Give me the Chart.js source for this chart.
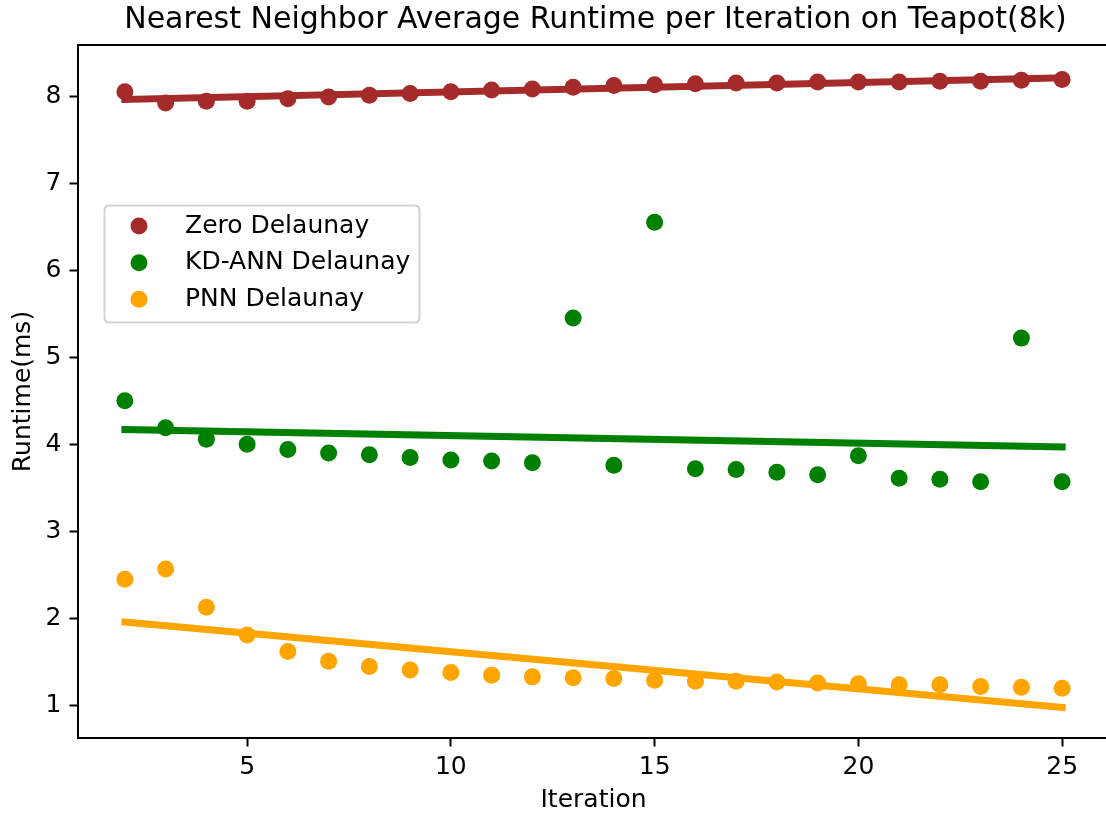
<!DOCTYPE html>
<html>
<head>
<meta charset="utf-8">
<script src="https://cdn.jsdelivr.net/npm/chart.js@4/dist/chart.umd.min.js"></script>
<style>
html,body{margin:0;padding:0;background:#fff;overflow:hidden;}
canvas{display:block;}
</style>
</head>
<body>
<canvas id="c" width="1109" height="816"></canvas>
<script>
const iterations = [2,3,4,5,6,7,8,9,10,11,12,13,14,15,16,17,18,19,20,21,22,23,24,25];
const zeroDelaunay = [8.05,7.92,7.94,7.94,7.97,7.99,8.01,8.03,8.05,8.07,8.08,8.10,8.12,8.13,8.14,8.15,8.15,8.16,8.16,8.16,8.17,8.17,8.18,8.19];
const kdAnnDelaunay = [4.50,4.19,4.06,4.00,3.94,3.90,3.88,3.85,3.82,3.81,3.79,5.45,3.76,6.55,3.72,3.71,3.68,3.65,3.87,3.61,3.60,3.57,5.22,3.57];
const pnnDelaunay = [2.45,2.57,2.13,1.81,1.62,1.51,1.45,1.41,1.38,1.35,1.33,1.32,1.31,1.29,1.28,1.28,1.27,1.26,1.25,1.24,1.24,1.22,1.21,1.20];
const fitX = [2,25];
const zeroFit = [7.96,8.21];
const kdFit = [4.17,3.97];
const pnnFit = [1.96,0.98];
const xTicks = [5,10,15,20,25];
const yTicks = [1,2,3,4,5,6,7,8];
const seriesNames = ["Zero Delaunay","KD-ANN Delaunay","PNN Delaunay"];
const colors = ["#a52a2a","#008000","#ffa500"];
const titleText = "Nearest Neighbor Average Runtime per Iteration on Teapot(8k)";

const FONT = "'DejaVu Sans', sans-serif";
const FS = 25;
const pts = (ys) => iterations.map((x,i)=>({x:x,y:ys[i]}));
const fit = (ys) => fitX.map((x,i)=>({x:x,y:ys[i]}));

function scatterDs(label, data, color){
  return {type:'scatter', label, data, showLine:false, pointRadius:8.5, pointHoverRadius:8.5,
    pointBackgroundColor:color, pointBorderWidth:0, borderColor:color, backgroundColor:color, order:1};
}
function lineDs(data, color){
  return {type:'line', label:'', data, showLine:true, pointRadius:0, borderColor:color, borderWidth:7,
    borderCapStyle:'square', fill:false, tension:0, order:2};
}

const deco = {
  id:'deco',
  afterDraw(chart){
    const ctx = chart.ctx, a = chart.chartArea;
    ctx.save();
    ctx.strokeStyle = '#000'; ctx.lineWidth = 2;
    ctx.beginPath();
    ctx.moveTo(a.left, a.top); ctx.lineTo(a.right, a.top); ctx.lineTo(a.right, a.bottom);
    ctx.stroke();
    ctx.fillStyle = '#000';
    ctx.textAlign = 'center'; ctx.textBaseline = 'middle';
    const cx = (a.left + a.right)/2;
    ctx.font = "30px " + FONT;
    ctx.fillText(titleText, cx + 2, 20.5);
    ctx.font = FS + "px " + FONT;
    ctx.fillText("Iteration", cx, 800);
    ctx.save();
    ctx.translate(23, (a.top + a.bottom)/2);
    ctx.rotate(-Math.PI/2);
    ctx.fillText("Runtime(ms)", 0, 0);
    ctx.restore();
    // legend
    const lx = 104.5, ly = 205.5, lw = 315, lh = 117, r = 5;
    ctx.beginPath();
    ctx.moveTo(lx+r, ly); ctx.lineTo(lx+lw-r, ly); ctx.quadraticCurveTo(lx+lw, ly, lx+lw, ly+r);
    ctx.lineTo(lx+lw, ly+lh-r); ctx.quadraticCurveTo(lx+lw, ly+lh, lx+lw-r, ly+lh);
    ctx.lineTo(lx+r, ly+lh); ctx.quadraticCurveTo(lx, ly+lh, lx, ly+lh-r);
    ctx.lineTo(lx, ly+r); ctx.quadraticCurveTo(lx, ly, lx+r, ly);
    ctx.closePath();
    ctx.fillStyle = 'rgba(255,255,255,0.8)'; ctx.fill();
    ctx.strokeStyle = '#d3d3d3'; ctx.lineWidth = 2; ctx.stroke();
    const rows = [226, 262.7, 299.3];
    ctx.textAlign = 'left';
    seriesNames.forEach((n,i)=>{
      ctx.fillStyle = colors[i];
      ctx.beginPath(); ctx.arc(139, rows[i], 8.5, 0, Math.PI*2); ctx.fill();
      ctx.fillStyle = '#000';
      ctx.fillText(n, 185, rows[i]);
    });
    ctx.restore();
  }
};

new Chart(document.getElementById('c'), {
  data: {
    datasets: [
      lineDs(fit(zeroFit), colors[0]),
      lineDs(fit(kdFit), colors[1]),
      lineDs(fit(pnnFit), colors[2]),
      scatterDs(seriesNames[0], pts(zeroDelaunay), colors[0]),
      scatterDs(seriesNames[1], pts(kdAnnDelaunay), colors[1]),
      scatterDs(seriesNames[2], pts(pnnDelaunay), colors[2])
    ]
  },
  options: {
    responsive:false, animation:false, devicePixelRatio:1,
    layout:{autoPadding:false, padding:{top:45,left:0,right:0,bottom:0}},
    plugins:{legend:{display:false}, tooltip:{enabled:false}, title:{display:false}},
    scales:{
      x:{type:'linear', min:0.85, max:26.15,
        afterFit(s){ s.height = 78; s.paddingLeft = 0; s.paddingRight = 0; },
        afterBuildTicks(s){ s.ticks = xTicks.map(v=>({value:v})); },
        grid:{display:true, drawOnChartArea:false, drawTicks:true, tickLength:8.5, tickColor:'#000', tickWidth:2},
        border:{display:true, color:'#000', width:2},
        ticks:{color:'#000', font:{family:FONT, size:FS}, padding:6, maxRotation:0, autoSkip:false}
      },
      y:{type:'linear', min:0.628, max:8.586,
        afterFit(s){ s.width = 78; s.paddingTop = 0; s.paddingBottom = 0; },
        afterBuildTicks(s){ s.ticks = yTicks.map(v=>({value:v})); },
        grid:{display:true, drawOnChartArea:false, drawTicks:true, tickLength:8.5, tickColor:'#000', tickWidth:2},
        border:{display:true, color:'#000', width:2},
        ticks:{color:'#000', font:{family:FONT, size:FS}, padding:8, autoSkip:false}
      }
    }
  },
  plugins:[deco]
});
</script>
</body>
</html>
